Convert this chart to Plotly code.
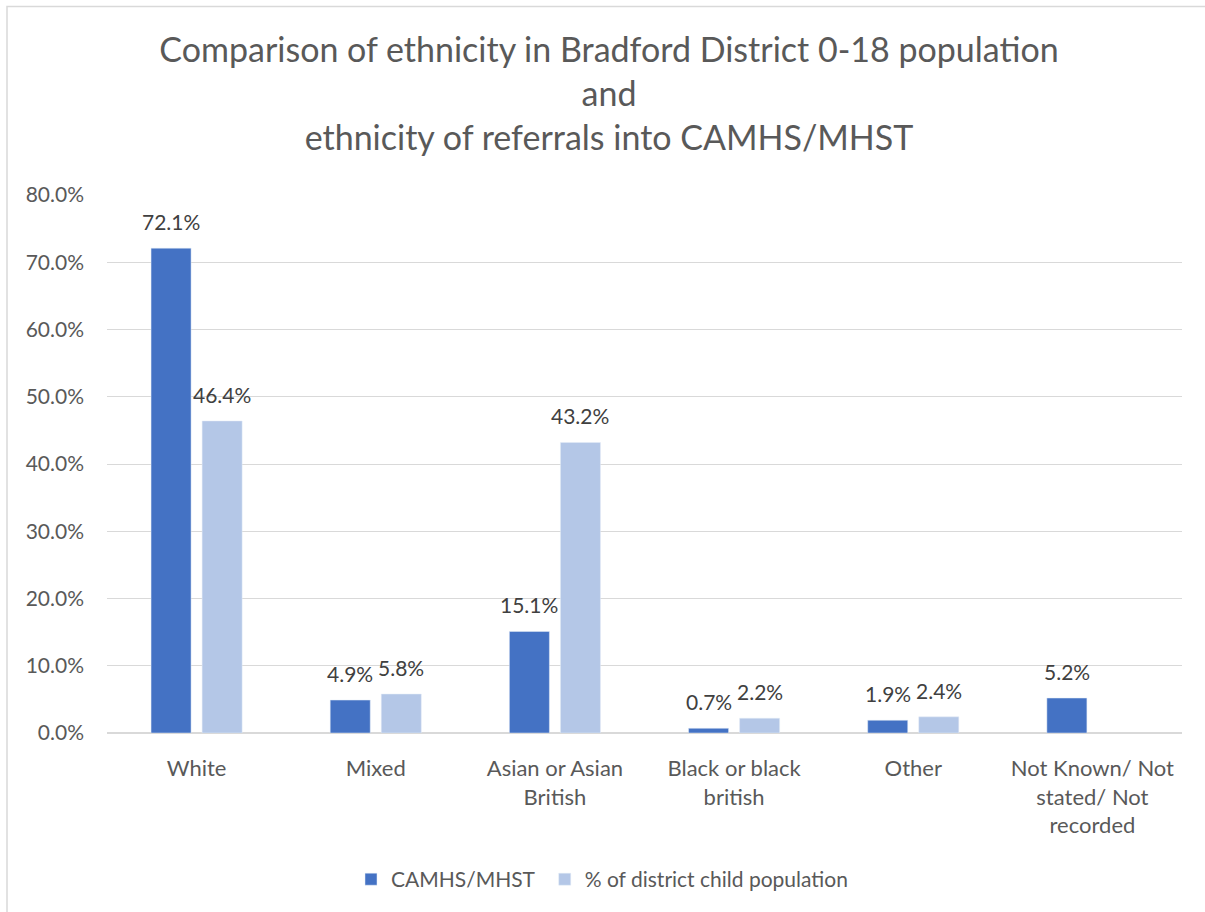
import plotly.graph_objects as go

categories = ["White", "Mixed", "Asian or Asian<br>British", "Black or black<br>british",
              "Other", "Not Known/ Not<br>stated/ Not<br>recorded"]
camhs_mhst = [72.1, 4.9, 15.1, 0.7, 1.9, 5.2]
district_pop = [46.4, 5.8, 43.2, 2.2, 2.4, None]
series_names = ["CAMHS/MHST", "% of district child population"]
y_ticks = [0, 10, 20, 30, 40, 50, 60, 70, 80]
y_tick_text = [f"{v:.1f}%" for v in y_ticks]

W, H = 1205, 912
L, R, T, B = 107, 23, 195, 175
plot_w = W - L - R
plot_h = H - T - B

FONT = "Lato"
DARK = "#4472C4"
LIGHT = "#B4C7E7"
GRID = "#D9D9D9"
TXT = "#595959"
LBL = "#404040"

NBSP = "\u00a0"

fig = go.Figure()
# a trailing no-break space widens the gap between the two legend entries
fig.add_bar(x=categories, y=camhs_mhst, name=series_names[0] + NBSP, marker_color=DARK)
fig.add_bar(x=categories, y=district_pop, name=series_names[1], marker_color=LIGHT)

# value labels above each bar
bar_offset = 25.5
for vals, shift in ((camhs_mhst, -bar_offset), (district_pop, bar_offset)):
    for cat, v in zip(categories, vals):
        if v is None:
            continue
        fig.add_annotation(x=cat, y=v, text=f"{v:.1f}%", showarrow=False,
                           xshift=shift, yshift=12, yanchor="bottom",
                           font=dict(family=FONT, size=21, color=LBL))

# chart-area border (left and top edges visible)
fig.add_shape(type="rect", xref="paper", yref="paper",
              x0=(7 - L) / plot_w, x1=(1300 - L) / plot_w,
              y0=-(1000 - (H - B)) / plot_h, y1=((H - B) - 5) / plot_h,
              line=dict(color=GRID, width=1.5), fillcolor="rgba(0,0,0,0)", layer="above")

fig.update_layout(
    width=W, height=H,
    margin=dict(l=L, r=R, t=T, b=B),
    paper_bgcolor="white", plot_bgcolor="white",
    barmode="group", bargap=0.43, bargroupgap=0.216,
    title=dict(text="Comparison of ethnicity in Bradford District 0-18 population<br>and<br>ethnicity of referrals into CAMHS/MHST",
               x=609 / W, xanchor="center", xref="container",
               y=1 - 62 / H, yanchor="top", yref="container",
               font=dict(family=FONT, size=34, color=TXT)),
    font=dict(family=FONT, color=TXT),
    xaxis=dict(showgrid=False, showline=False, ticks="", ticklabelstandoff=20,
               tickfont=dict(family=FONT, size=22, color=TXT)),
    yaxis=dict(range=[0, 80], tickvals=y_ticks, ticktext=y_tick_text,
               showgrid=True, gridcolor=GRID, gridwidth=1.3,
               zeroline=True, zerolinecolor=GRID, zerolinewidth=1.5,
               showline=False, ticks="", ticklabelstandoff=22,
               tickfont=dict(family=FONT, size=21, color=TXT)),
    legend=dict(orientation="h", x=(351 - L) / plot_w, xanchor="left",
                y=-(878 - (H - B) - 14) / plot_h, yanchor="top",
                font=dict(family=FONT, size=21, color=TXT),
                itemwidth=30),
    showlegend=True,
)

fig.write_html("out.html")
